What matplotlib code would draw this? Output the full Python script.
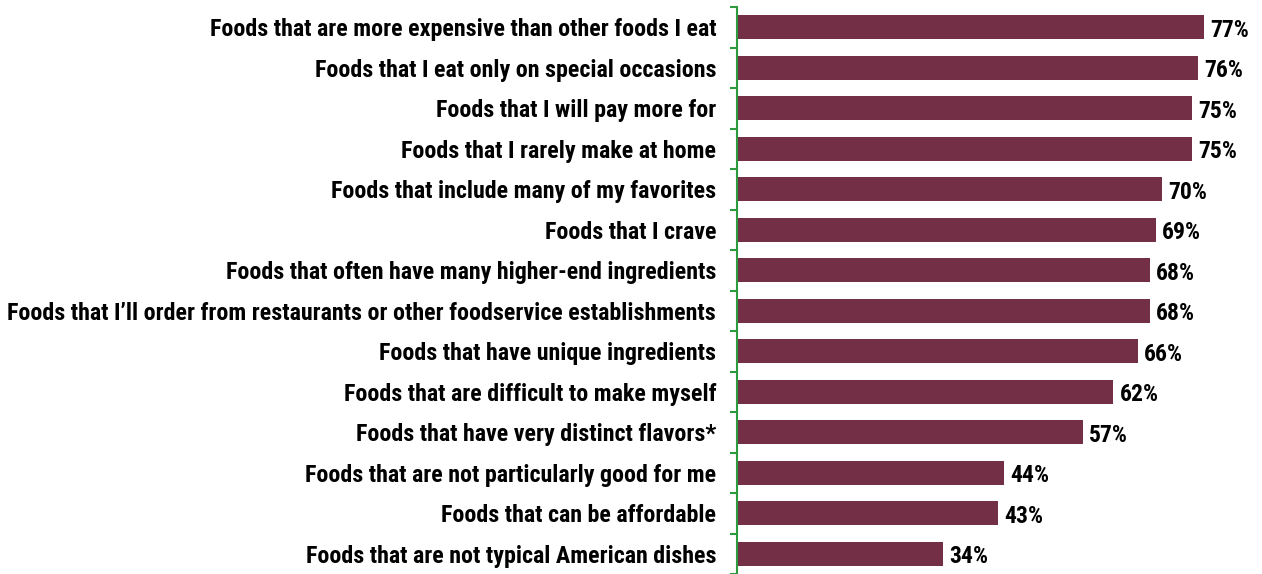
import matplotlib.pyplot as plt
from matplotlib import font_manager

labels = [
    "Foods that are more expensive than other foods I eat",
    "Foods that I eat only on special occasions",
    "Foods that I will pay more for",
    "Foods that I rarely make at home",
    "Foods that include many of my favorites",
    "Foods that I crave",
    "Foods that often have many higher-end ingredients",
    "Foods that I\u2019ll order from restaurants or other foodservice establishments",
    "Foods that have unique ingredients",
    "Foods that are difficult to make myself",
    "Foods that have very distinct flavors*",
    "Foods that are not particularly good for me",
    "Foods that can be affordable",
    "Foods that are not typical American dishes",
]
values = [77, 76, 75, 75, 70, 69, 68, 68, 66, 62, 57, 44, 43, 34]

# pick a narrow bold face if one is around
names = {f.name for f in font_manager.fontManager.ttflist}
font = "DejaVu Sans"
for cand in ["Liberation Sans Narrow", "Roboto Condensed", "Archivo Narrow", "Pragati Narrow"]:
    if cand in names:
        font = cand
        break
plt.rcParams["font.family"] = [font, "DejaVu Sans"]

BAR = "#722F46"
GREEN = "#2E9A3E"
FS = 17.3

fig = plt.figure(figsize=(12.62, 5.74), dpi=100)
ax = fig.add_axes([737 / 1262, 0.0, 1 - 737 / 1262, 1 - 7 / 574])

pos = list(range(len(values)))
ax.barh(pos, values, height=0.6, color=BAR)
for p, v in zip(pos, values):
    ax.text(v + 1.0, p + 0.08, f"{v}%", va="center", ha="left", fontsize=17,
            fontweight="bold", color="black")

ax.set_ylim(len(values) - 0.5, -0.5)
ax.set_xlim(0, (1262 - 737) / 6.07)

# labels on the left, tick marks between the categories
ax.set_yticks(pos)
ax.set_yticklabels(labels, fontsize=FS, fontweight="bold")
ax.set_yticks([p - 0.5 for p in pos] + [len(values) - 0.5], minor=True)
ax.tick_params(axis="y", which="major", length=0, pad=15)
ax.tick_params(axis="y", which="minor", length=5, width=1.5, color=GREEN)
ax.set_xticks([])

for s in ["top", "right", "bottom"]:
    ax.spines[s].set_visible(False)
ax.spines["left"].set_color(GREEN)
ax.spines["left"].set_linewidth(1.5)

fig.savefig("out.png", dpi=100)
